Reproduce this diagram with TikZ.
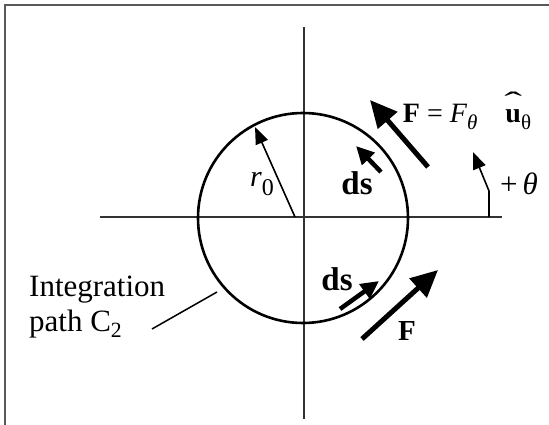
\documentclass[tikz,border=0pt]{standalone}
\usepackage{fontspec}
\setmainfont{Liberation Serif}
\usetikzlibrary{arrows.meta}
\newcommand{\hatu}{\ooalign{\textbf{u}\cr\hidewidth\raisebox{0.38em}{\scalebox{1.9}[1]{ˆ}}\hidewidth\cr}}
\newcommand{\bigsub}[1]{\raisebox{-0.25em}{\fontsize{21}{21}\selectfont #1}}

\begin{document}
\begin{tikzpicture}[x=1pt,y=-1pt,
  bigvec/.style={line width=5pt,-{Triangle[length=27pt,width=25pt]}},
  smallvec/.style={line width=4.5pt,-{Triangle[length=18pt,width=17pt]}},
  thinvec/.style={line width=1.6pt,-{Triangle[length=17pt,width=13pt]}},
  lbl/.style={font=\fontsize{28}{30}\selectfont,inner sep=0pt},
  boldlbl/.style={font=\fontsize{33}{34}\selectfont\bfseries,inner sep=0pt}]
\useasboundingbox (0,0) rectangle (549,425);
\draw[line width=1.5pt,black!65] (5,425) -- (5,5) -- (549,5);
% axes and path
\draw[line width=1.2pt,black!80] (100,217) -- (502,217);
\draw[line width=1.2pt,black!80] (304,27) -- (304,419);
\coordinate (o) at (303,218);
\draw[line width=2.6pt] (o) circle (105);
\draw[thinvec] (295,217) -- (255,127);
\node[lbl,font=\fontsize{30}{30}\selectfont] (r0) at (262,184)
  {\textit{r}\raisebox{-0.28em}{\fontsize{24}{24}\selectfont 0}};
% vectors
\draw[bigvec] (428,167) -- (370,100);
\draw[smallvec] (381,172) -- (356,146);
\draw[smallvec] (340,309) -- (379,281);
\draw[bigvec] (362,339) -- (438,270);
\node[lbl] (flbl) at (467,117)
  {\textbf{F} = \textit{F}\bigsub{\textit{θ}}\quad\hatu\bigsub{θ}};
\node[boldlbl] (ds1) at (357,183) {ds};
\node[boldlbl] (ds2) at (337,279) {ds};
\node[boldlbl,font=\fontsize{29}{30}\selectfont\bfseries] (f2) at (407,331) {F};
% angle sense
\draw[thinvec] (489,217) -- (489,191) -- (473,152);
\node[lbl,font=\fontsize{31}{32}\selectfont] (theta) at (519,184) {+\,\textit{θ}};
% label of the path
\node[font=\fontsize{31}{35}\selectfont,align=left,anchor=west,inner sep=0pt]
  (pathlbl) at (29,307) {Integration\\path C\textsubscript{2}};
\coordinate (leadA) at (152,329);
\coordinate (leadB) at (217,292);
\draw[line width=1.5pt] (leadA) -- (leadB);
\end{tikzpicture}
\end{document}
